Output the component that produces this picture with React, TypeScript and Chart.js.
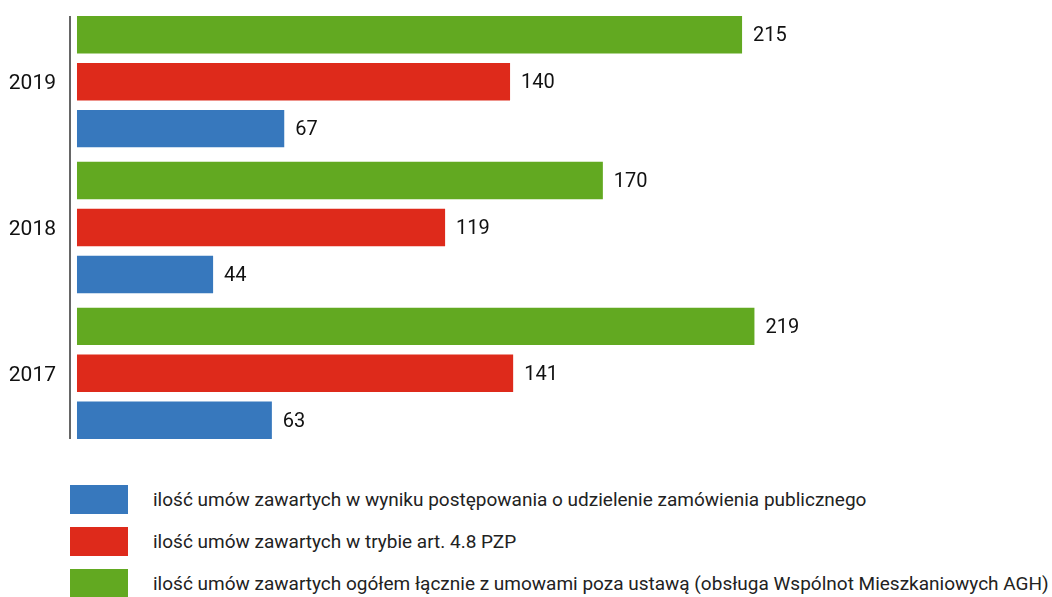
import React, { useEffect, useRef } from "react";
import { Chart, registerables } from "chart.js";

Chart.register(...registerables);

const years = ["2019", "2018", "2017"];
const totalAll = [215, 170, 219];
const art48 = [140, 119, 141];
const tender = [67, 44, 63];

const labelTotal = "ilość umów zawartych ogółem łącznie z umowami poza ustawą (obsługa Wspólnot Mieszkaniowych AGH)";
const labelArt = "ilość umów zawartych w trybie art. 4.8 PZP";
const labelTender = "ilość umów zawartych w wyniku postępowania o udzielenie zamówienia publicznego";

const GREEN = "#62a921";
const RED = "#de2a1b";
const BLUE = "#3778bd";
const FONT = "Roboto, 'Liberation Sans', sans-serif";

const valueLabels = {
  id: "valueLabels",
  afterDatasetsDraw(chart: any) {
    const ctx = chart.ctx;
    ctx.save();
    ctx.font = `20px ${FONT}`;
    ctx.fillStyle = "#111";
    ctx.textAlign = "left";
    ctx.textBaseline = "middle";
    let top = Infinity;
    let bottom = -Infinity;
    chart.data.datasets.forEach((ds: any, i: number) => {
      const meta = chart.getDatasetMeta(i);
      meta.data.forEach((bar: any, j: number) => {
        ctx.fillText(String(ds.data[j]), bar.x + 11, bar.y + 1.5);
        top = Math.min(top, bar.y - bar.height / 2);
        bottom = Math.max(bottom, bar.y + bar.height / 2);
      });
    });
    // axis line spanning the bars
    const x = chart.chartArea.left;
    ctx.strokeStyle = "#666";
    ctx.lineWidth = 2;
    ctx.beginPath();
    ctx.moveTo(x, top);
    ctx.lineTo(x, bottom);
    ctx.stroke();
    ctx.restore();
  },
};

export default function App() {
  const ref = useRef<HTMLCanvasElement>(null);
  useEffect(() => {
    document.body.style.margin = "0";
    const chart = new Chart(ref.current!, {
      type: "bar",
      data: {
        labels: years,
        datasets: [
          { label: labelTotal, data: totalAll, backgroundColor: GREEN },
          { label: labelArt, data: art48, backgroundColor: RED },
          { label: labelTender, data: tender, backgroundColor: BLUE },
        ],
      },
      options: {
        indexAxis: "y",
        animation: false,
        responsive: false,
        maintainAspectRatio: false,
        datasets: { bar: { categoryPercentage: 0.9658, barPercentage: 0.798 } },
        layout: { padding: { top: 8.75, bottom: 13.75, left: 0, right: 47 } },
        plugins: { legend: { display: false }, tooltip: { enabled: false } },
        scales: {
          x: {
            display: false,
            min: -2.26,
            max: 300,
          },
          y: {
            afterFit: (axis: any) => {
              axis.width = 70;
              axis.paddingTop = 0;
              axis.paddingBottom = 0;
            },
            grid: { display: false, drawTicks: false },
            border: { display: false },
            ticks: {
              color: "#111",
              font: { size: 21, family: FONT },
              padding: 14,
              labelOffset: 2,
            },
          },
        },
      },
      plugins: [valueLabels],
    });
    return () => chart.destroy();
  }, []);

  const legendItems = [
    { color: BLUE, text: labelTender },
    { color: RED, text: labelArt },
    { color: GREEN, text: labelTotal },
  ];

  return (
    <div style={{ position: "relative", width: 1052, height: 597, overflow: "hidden", background: "#fff" }}>
      <canvas ref={ref} width={1052} height={460} style={{ position: "absolute", left: 0, top: 0 }} />
      {legendItems.map((it, i) => (
        <div
          key={i}
          style={{
            position: "absolute",
            left: 70,
            top: 485 + i * 42,
            height: 29,
            display: "flex",
            alignItems: "center",
            whiteSpace: "nowrap",
          }}
        >
          <div style={{ width: 58, height: 29, background: it.color }} />
          <span style={{ marginLeft: 25, fontFamily: FONT, fontSize: 19, color: "#222" }}>{it.text}</span>
        </div>
      ))}
    </div>
  );
}
